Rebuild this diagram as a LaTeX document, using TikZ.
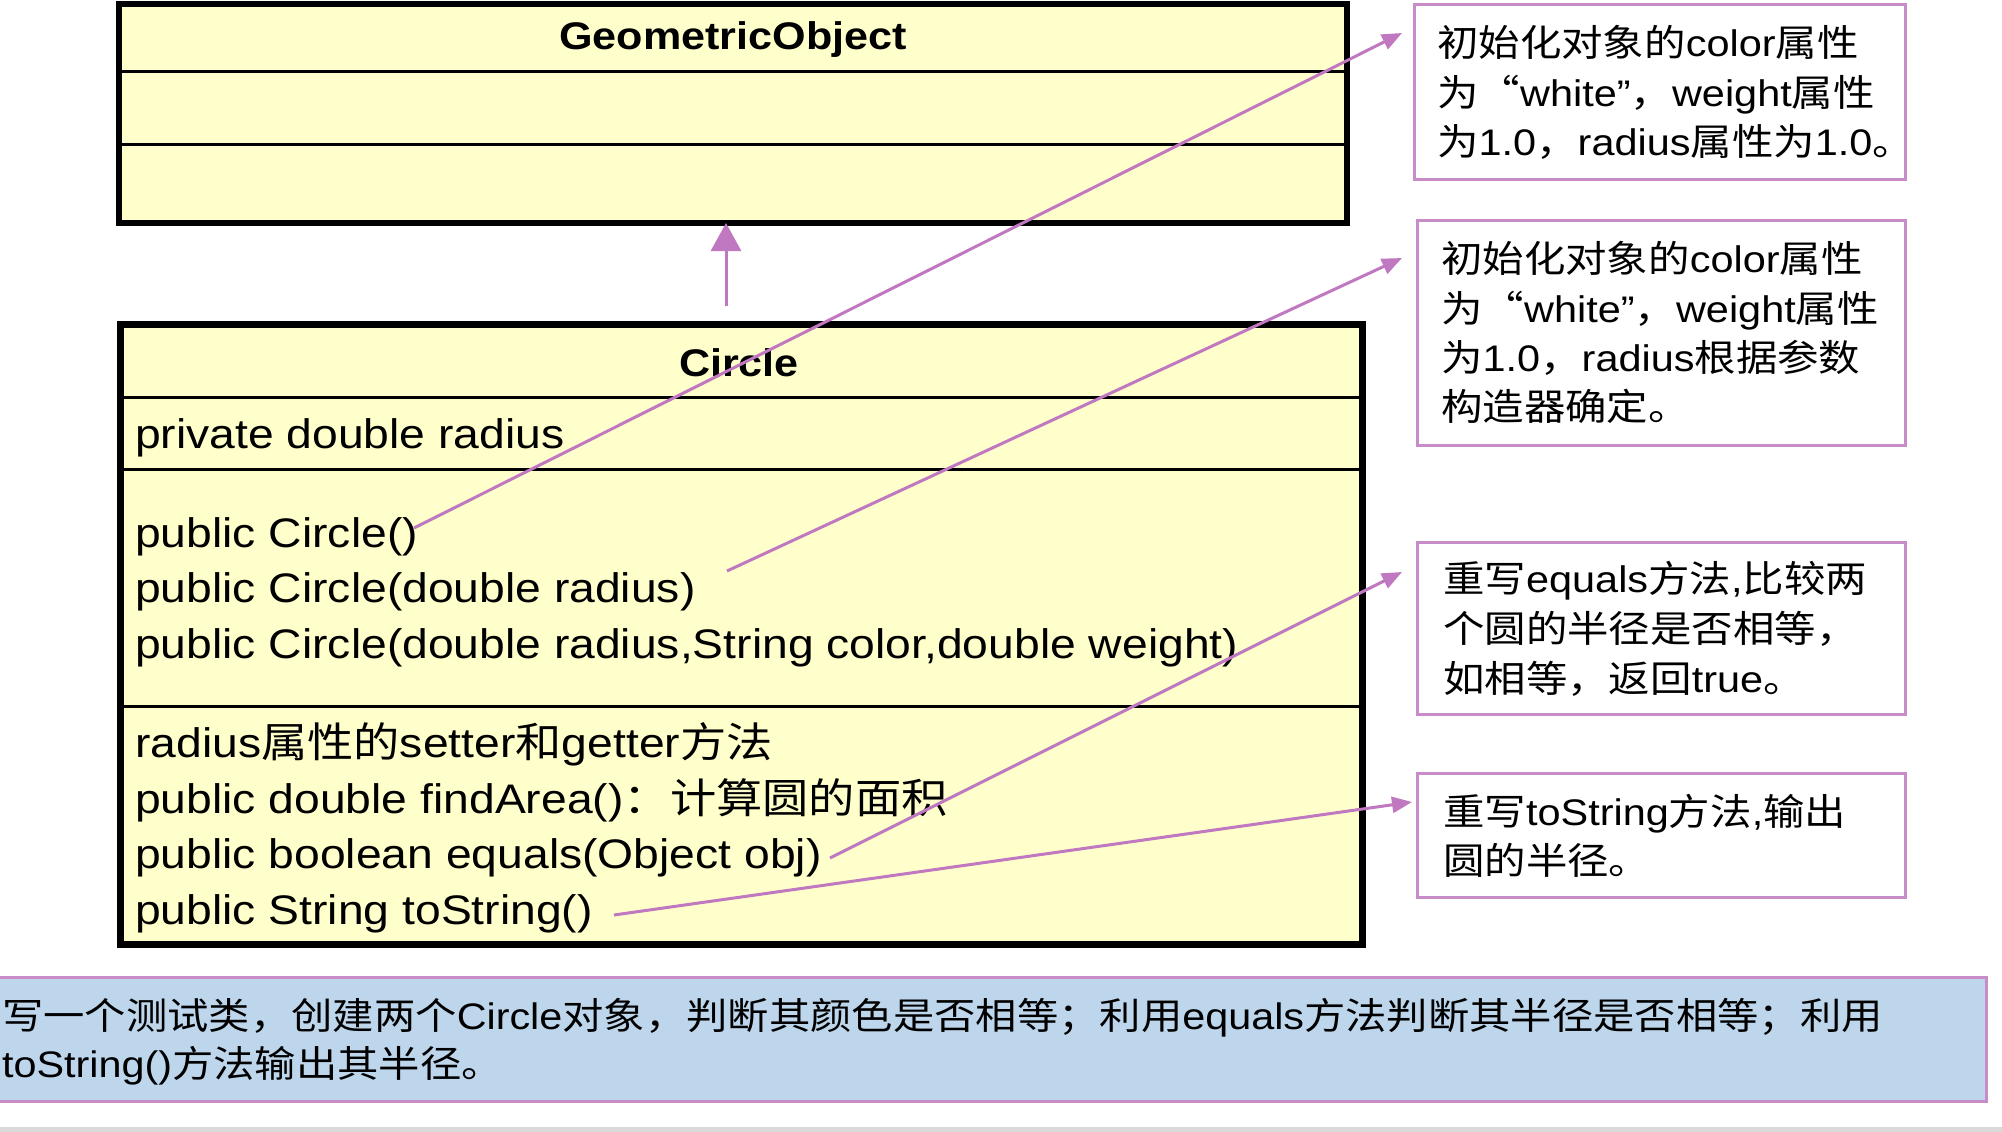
\documentclass[tikz,border=0pt]{standalone}
\usepackage{fontspec}
\setmainfont[FakeStretch=1.12]{Liberation Sans}
\newfontfamily\cjkf[FakeStretch=1.12]{Noto Sans CJK SC}
\newcommand\zh[1]{{\cjkf #1}}
\usetikzlibrary{arrows.meta}
\definecolor{ylw}{HTML}{FFFFCC}
\definecolor{vio}{HTML}{C078C0}
\definecolor{viob}{HTML}{C88CC8}
\definecolor{blu}{HTML}{BDD6EC}
\begin{document}
\begin{tikzpicture}[x=1pt,y=-1pt,
  classbox/.style={draw=black, line width=6pt, fill=ylw, inner sep=0pt, outer sep=0pt, anchor=north west},
  divider/.style={line width=3pt, draw=black},
  note/.style={draw=viob, line width=3pt, fill=white, inner sep=0pt, outer sep=0pt, anchor=north west},
  ttl/.style={font=\bfseries\fontsize{38.5}{44}\selectfont, inner sep=0pt, anchor=base},
  body/.style={font=\fontsize{41.3}{48}\selectfont, inner sep=0pt, anchor=base west},
  ntxt/.style={font=\fontsize{37}{42}\selectfont, inner sep=0pt, anchor=base west},
  btxt/.style={font=\fontsize{36.9}{42}\selectfont, inner sep=0pt, anchor=base west},
  conn/.style={draw=vio, line width=3pt, -{Triangle[length=20pt,width=16pt]}},
  inh/.style={draw=vio, line width=3pt, -{Triangle[length=28pt,width=30pt]}}]
\useasboundingbox (0,0) rectangle (2002,1132);
\fill[white] (0,0) rectangle (2002,1132);
\fill[gray!30] (0,1127) rectangle (2002,1132);

% GeometricObject class
\node[classbox, minimum width=1228pt, minimum height=219pt] (geo) at (119,4) {};
\draw[divider] (geo.west |- 0,72) -- (geo.east |- 0,72);
\draw[divider] (geo.west |- 0,144) -- (geo.east |- 0,144);
\node[ttl] (geot) at (733,50) {GeometricObject};

% Circle class
\node[classbox, line width=7pt, minimum width=1242pt, minimum height=620pt] (circ) at (120,324) {};
\draw[divider] (circ.west |- 0,397) -- (circ.east |- 0,397);
\draw[divider] (circ.west |- 0,469) -- (circ.east |- 0,469);
\draw[divider] (circ.west |- 0,706) -- (circ.east |- 0,706);
\node[ttl] (circt) at (739,376) {Circle};
\node[body] (f1) at (135,448) {private double radius};
\node[body] (c1) at (135,547) {public Circle()};
\node[body] (c2) at (135,602) {public Circle(double radius)};
\node[body] (c3) at (135,658) {public Circle(double radius,String color,double weight)};
\node[body] (m1) at (135,757) {radius\zh{属性的}setter\zh{和}getter\zh{方法}};
\node[body] (m2) at (135,813) {public double findArea()\zh{：计算圆的面积}};
\node[body] (m3) at (135,868) {public boolean equals(Object obj)};
\node[body] (m4) at (135,924) {public String toString()};

% inheritance arrow
\coordinate (inhs) at (726,306);
\draw[inh] (inhs) -- (inhs |- geo.south);

% notes
\node[note, minimum width=491pt, minimum height=174pt] (b1) at (1414,5) {};
\node[ntxt] (b1a) at (1437,57) {\zh{初始化对象的}color\zh{属性}};
\node[ntxt] (b1b) at (1437,106) {\zh{为“}white”\zh{，}weight\zh{属性}};
\node[ntxt] (b1c) at (1437,155) {\zh{为}1.0\zh{，}radius\zh{属性为}1.0\zh{。}};

\node[note, minimum width=488pt, minimum height=225pt] (b2) at (1417,220) {};
\node[ntxt] (b2a) at (1441,272) {\zh{初始化对象的}color\zh{属性}};
\node[ntxt] (b2b) at (1441,322) {\zh{为“}white”\zh{，}weight\zh{属性}};
\node[ntxt] (b2c) at (1441,371) {\zh{为}1.0\zh{，}radius\zh{根据参数}};
\node[ntxt] (b2d) at (1441,420) {\zh{构造器确定。}};

\node[note, minimum width=488pt, minimum height=172pt] (b3) at (1417,542) {};
\node[ntxt] (b3a) at (1443,592) {\zh{重写}equals\zh{方法},\zh{比较两}};
\node[ntxt] (b3b) at (1443,642) {\zh{个圆的半径是否相等，}};
\node[ntxt] (b3c) at (1443,692) {\zh{如相等，返回}true\zh{。}};

\node[note, minimum width=488pt, minimum height=124pt] (b4) at (1417,773) {};
\node[ntxt] (b4a) at (1443,825) {\zh{重写}toString\zh{方法},\zh{输出}};
\node[ntxt] (b4b) at (1443,874) {\zh{圆的半径。}};

% test box
\node[note, fill=blu, minimum width=1991pt, minimum height=124pt] (test) at (-5,977) {};
\node[btxt] (t1) at (2,1029) {\zh{写一个测试类，创建两个}Circle\zh{对象，判断其颜色是否相等；利用}equals\zh{方法判断其半径是否相等；利用}};
\node[btxt] (t2) at (2,1077) {toString()\zh{方法输出其半径。}};

% connectors
\coordinate (s1) at (414,528);
\coordinate (e1) at (1402,33);
\coordinate (s2) at (727,571);
\coordinate (e2) at (1402,258);
\coordinate (s3) at (830,858);
\coordinate (e3) at (1402,572);
\coordinate (s4) at (614,915);
\coordinate (e4) at (1412,802);
\draw[conn] (s1) -- (e1);
\draw[conn] (s2) -- (e2);
\draw[conn] (s3) -- (e3);
\draw[conn] (s4) -- (e4);
\end{tikzpicture}
\end{document}
